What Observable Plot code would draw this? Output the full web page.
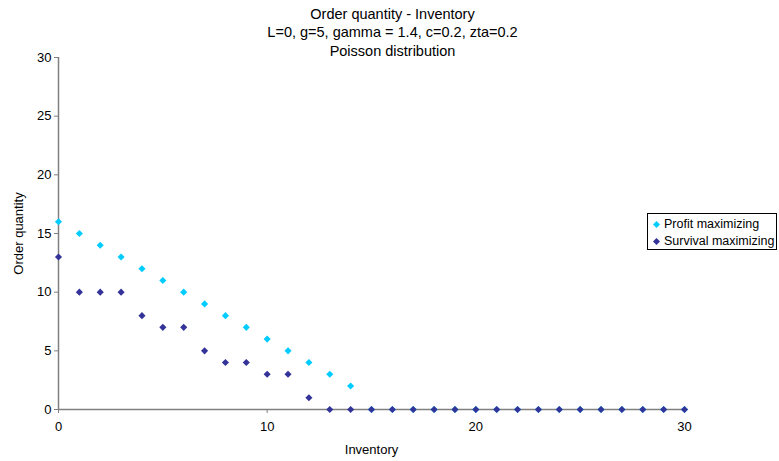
<!DOCTYPE html>
<html>
<head>
<meta charset="utf-8">
<script src="https://cdn.jsdelivr.net/npm/d3@7"></script>
<script src="https://cdn.jsdelivr.net/npm/@observablehq/plot@0.6"></script>
<style>
  body { margin: 0; background: #fff; font-family: "Liberation Sans", Arial, sans-serif; }
  #wrap { position: relative; width: 779px; height: 461px; overflow: hidden; }
  #legend { position: absolute; left: 647px; top: 213px; width: 130px; height: 37px; border: 1px solid #000; background: #fff; font-size: 12.5px; box-sizing: border-box; }
  #legend .row { position: absolute; left: 5px; white-space: nowrap; line-height: 15px; }
  #legend svg { vertical-align: 0px; margin-right: 4px; }
</style>
</head>
<body>
<div id="wrap"></div>
<script>
const inventory = d3.range(0, 31);
const profitMax = [16,15,14,13,12,11,10,9,8,7,6,5,4,3,2,0,0,0,0,0,0,0,0,0,0,0,0,0,0,0,0];
const survivalMax = [13,10,10,10,8,7,7,5,4,4,3,3,1,0,0,0,0,0,0,0,0,0,0,0,0,0,0,0,0,0,0];
const seriesNames = ["Profit maximizing", "Survival maximizing"];
const seriesColors = ["#00CCFF", "#333399"];
const titleLines = ["Order quantity - Inventory", "L=0, g=5, gamma = 1.4, c=0.2, zta=0.2", "Poisson distribution"];
const xTicks = [0, 10, 20, 30];
const yTicks = [0, 5, 10, 15, 20, 25, 30];

const data = [];
inventory.forEach((x, i) => data.push({x, y: profitMax[i], s: seriesNames[0]}));
inventory.forEach((x, i) => data.push({x, y: survivalMax[i], s: seriesNames[1]}));

const plot = Plot.plot({
  width: 779,
  height: 461,
  marginLeft: 58,
  marginRight: 95,
  marginTop: 57,
  marginBottom: 52,
  style: {fontFamily: "Liberation Sans, Arial, sans-serif", fontSize: "13px", color: "#000", background: "#fff"},
  x: {domain: [0, 30]},
  y: {domain: [0, 30]},
  color: {domain: seriesNames, range: seriesColors},
  marks: [
    Plot.axisX({ticks: xTicks, tickSize: 4, tickPadding: 8, stroke: "#808080", label: "Inventory", labelAnchor: "center", labelArrow: "none", labelOffset: 44}),
    Plot.axisY({ticks: yTicks, tickSize: 4, tickPadding: 3, stroke: "#808080", label: "Order quantity", labelAnchor: "center", labelArrow: "none", labelOffset: 45}),
    Plot.ruleY([0], {stroke: "#808080", strokeWidth: 1.5}),
    Plot.ruleX([0], {stroke: "#808080", strokeWidth: 1.5}),
    Plot.dot(data, {x: "x", y: "y", fill: "s", symbol: "diamond2", stroke: "none", r: 3.2}),
    Plot.text(titleLines, {text: d => d, frameAnchor: "top", fontSize: 14.5})
  ]
});
document.getElementById("wrap").appendChild(plot);

const svg = d3.select(plot);
svg.selectAll("text").filter(function() { return titleLines.includes(this.textContent); })
  .attr("transform", function() { const i = titleLines.indexOf(this.textContent); return `translate(${(58 + 684) / 2 + 21},${8 + i * 18.5})`; })
  .attr("text-anchor", "middle");

const leg = document.createElement("div");
leg.id = "legend";
seriesNames.forEach((n, i) => {
  const r = document.createElement("div");
  r.className = "row";
  r.style.top = (3 + i * 17) + "px";
  r.innerHTML = `<svg width="7" height="7"><path d="M3.5,0L7,3.5L3.5,7L0,3.5Z" fill="${seriesColors[i]}"/></svg>${n}`;
  leg.appendChild(r);
});
document.getElementById("wrap").appendChild(leg);
</script>
</body>
</html>
